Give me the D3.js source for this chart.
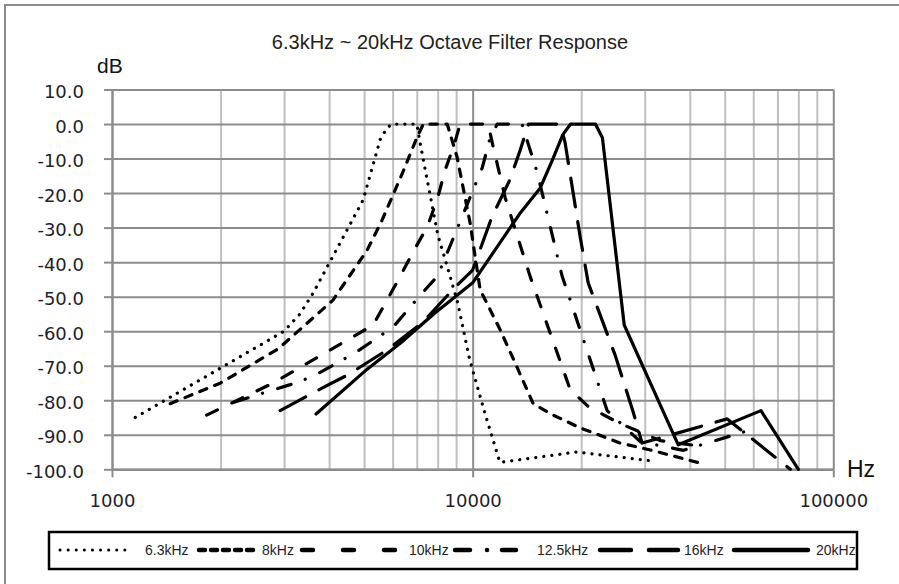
<!DOCTYPE html>
<html><head><meta charset="utf-8">
<script src="https://cdn.jsdelivr.net/npm/d3@7"></script>
<style>html,body{margin:0;padding:0;background:#fff;overflow:hidden}</style>
</head><body>
<svg id="chart" width="899" height="584"></svg>
<script>
// ---------------- data ----------------
const seriesNames = ["6.3kHz", "8kHz", "10kHz", "12.5kHz", "16kHz", "20kHz"];

const freq63 = [1160, 3000, 3320, 3610, 4970, 5540, 5800, 6000, 7000, 7150, 8000, 8600, 9100, 9800, 10830, 11900, 19400, 31000];
const db63   = [-85, -60, -55, -49, -22, -4.5, -1, 0, 0, -5.5, -32, -43, -52, -68, -84, -98, -95, -97.5];

const freq8 = [1450, 2000, 2900, 4100, 5100, 5600, 6400, 7000, 7300, 8500, 9050, 9840, 10490, 11920, 13260, 14720, 16720, 19870, 25660, 31080, 42760];
const db8   = [-81, -75, -65, -51, -36.5, -28, -14, -4, 0, 0, -9.5, -28.7, -48, -59.6, -70.3, -81, -84.3, -88, -92.4, -94.4, -98.2];

const freq10 = [1830, 2800, 5300, 6170, 6840, 7480, 7970, 8390, 8890, 9230, 11040, 11330, 12310, 14440, 18640, 20910, 25330, 33120, 44160];
const db10   = [-84.3, -75, -58.2, -45.8, -37, -29.8, -22, -13.3, -6, 0, 0, -5.4, -21.4, -44.2, -76.9, -81.8, -86.5, -91.7, -93.5];

const freq125 = [2190, 2800, 3300, 3660, 4720, 6020, 7240, 8000, 10630, 11180, 11700, 13700, 15100, 17700, 21450, 23600, 29150, 38400, 61500];
const db125   = [-80.5, -77, -74.7, -72.7, -66.3, -58.8, -49, -44, -12.7, -4, 0, 0, -14, -44, -70, -83, -92, -94.5, -88];

const freq16 = [2925, 3820, 4500, 5800, 7300, 8800, 10000, 11300, 12700, 13500, 14300, 17500, 18050, 19870, 20910, 24850, 27870, 29500, 50800, 76000];
const db16   = [-83, -76.5, -72.7, -65.4, -57.3, -48, -42.3, -27, -16, -8, 0, 0, -5.5, -32.7, -46, -67, -83.4, -92.4, -85.4, -100];

const freq20 = [3680, 5100, 6300, 7800, 10000, 13500, 15400, 16700, 17800, 18700, 21900, 22900, 26320, 37160, 63000, 80000];
const db20   = [-84, -71, -63.5, -55, -46, -26, -18.5, -10, -3, 0, 0, -4, -58.2, -92.9, -83, -100];

const yTicks = [10, 0, -10, -20, -30, -40, -50, -60, -70, -80, -90, -100];
const xTicks = [1000, 10000, 100000];
const xMinor = [2000, 3000, 4000, 5000, 6000, 7000, 8000, 9000, 20000, 30000, 40000, 50000, 60000, 70000, 80000, 90000];

// ---------------- layout / style ----------------
const W = 899, H = 584;
const X0 = 112, X1 = 833.3, Y0 = 89.5, Y1 = 469.3;
const gridDark = "#8c8c8c", gridLight = "#c0c0c0", txt = "#1e1e2e";

const styles = [
  {dash: "0.1 8",          w: 3.2, ld: "0.1 8",                      lw: 3,   lx: [60, 132]},
  {dash: "7.5 8.5",        w: 3.2, ld: "6 6",                        lw: 4.5, lx: [199, 253]},
  {dash: "12 16",          w: 3.2, ld: "11 30",                      lw: 4.5, lx: [302, 395]},
  {dash: "14 15 0.1 15.9", w: 3.2, ld: "15 17 0.1 14.9 14 20",       lw: 4.5, lx: [455, 516]},
  {dash: "29 15",          w: 3.2, ld: "31 18 29 20",                lw: 4.5, lx: [600, 678]},
  {dash: null,             w: 3.2, ld: null,                         lw: 4.5, lx: [734, 808]}
];
const labelX = [145, 262, 409, 537, 684, 816];

const seriesF = [freq63, freq8, freq10, freq125, freq16, freq20];
const seriesV = [db63, db8, db10, db125, db16, db20];
const series = seriesNames.map((n, i) => ({
  name: n,
  pts: seriesF[i].map((f, j) => [f, seriesV[i][j]]),
  st: styles[i]
}));

const svg = d3.select("#chart");
svg.append("rect").attr("width", W).attr("height", H).attr("fill", "#fff");

// outer chart border
svg.append("rect").attr("x", 5).attr("y", 5).attr("width", 1200).attr("height", 1200)
  .attr("fill", "none").attr("stroke", "#8c8c8c").attr("stroke-width", 2);

const x = d3.scaleLog().domain([1000, 100000]).range([X0, X1]);
const y = d3.scaleLinear().domain([-100, 10]).range([Y1, Y0]);

// minor vertical grid
svg.append("g").attr("transform", `translate(0,${Y1})`)
  .call(d3.axisBottom(x).tickValues(xMinor).tickSize(-(Y1 - Y0)).tickFormat(""))
  .call(g => g.select(".domain").remove())
  .call(g => g.selectAll("line").attr("stroke", gridLight).attr("stroke-width", 2));

// horizontal grid
svg.append("g").attr("transform", `translate(${X0},0)`)
  .call(d3.axisLeft(y).tickValues(yTicks).tickSize(-(X1 - X0)).tickFormat(""))
  .call(g => g.select(".domain").remove())
  .call(g => g.selectAll("line").attr("stroke", gridDark).attr("stroke-width", 2));

// major vertical grid
svg.append("g").attr("transform", `translate(0,${Y1})`)
  .call(d3.axisBottom(x).tickValues([10000, 100000]).tickSize(-(Y1 - Y0)).tickFormat(""))
  .call(g => g.select(".domain").remove())
  .call(g => g.selectAll("line").attr("stroke", gridDark).attr("stroke-width", 2));

// y axis
svg.append("g").attr("transform", `translate(${X0},0)`)
  .call(d3.axisLeft(y).tickValues(yTicks).tickFormat(d => d.toFixed(1)).tickSizeInner(8).tickSizeOuter(0).tickPadding(20))
  .call(g => g.select(".domain").attr("stroke", gridDark).attr("stroke-width", 2.5))
  .call(g => g.selectAll("line").attr("stroke", gridDark).attr("stroke-width", 2))
  .call(g => g.selectAll("text").attr("fill", txt).attr("font-family", "DejaVu Sans").attr("font-size", 18).attr("dy", "0.45em"));

// x axis
svg.append("g").attr("transform", `translate(0,${Y1})`)
  .call(d3.axisBottom(x).tickValues(xTicks).tickFormat(d3.format("d")).tickSizeInner(8).tickSizeOuter(0).tickPadding(17))
  .call(g => g.select(".domain").attr("stroke", gridDark).attr("stroke-width", 2.5))
  .call(g => g.selectAll("line").attr("stroke", gridDark).attr("stroke-width", 2))
  .call(g => g.selectAll("text").attr("fill", txt).attr("font-family", "DejaVu Sans").attr("font-size", 18));

// series
svg.append("defs").append("clipPath").attr("id", "plotclip")
  .append("rect").attr("x", X0).attr("y", Y0 - 4).attr("width", X1 - X0).attr("height", Y1 - Y0 + 6);

const line = d3.line().x(d => x(d[0])).y(d => y(d[1]));
const gS = svg.append("g").attr("clip-path", "url(#plotclip)");
series.forEach(s => {
  gS.append("path").datum(s.pts).attr("d", line)
    .attr("fill", "none").attr("stroke", "#000").attr("stroke-width", s.st.w)
    .attr("stroke-linecap", "round").attr("stroke-linejoin", "round")
    .attr("stroke-dasharray", s.st.dash);
});

// titles
svg.append("text").attr("x", 450).attr("y", 49).attr("text-anchor", "middle")
  .attr("font-family", "Liberation Sans, Arial").attr("font-size", 20).attr("fill", "#222")
  .text("6.3kHz ~ 20kHz Octave Filter Response");
svg.append("text").attr("x", 97).attr("y", 73)
  .attr("font-family", "Liberation Sans, Arial").attr("font-size", 21).attr("fill", "#111").text("dB");
svg.append("text").attr("x", 847).attr("y", 477)
  .attr("font-family", "Liberation Sans, Arial").attr("font-size", 23).attr("fill", "#111").text("Hz");

// legend
const lg = svg.append("g");
lg.append("rect").attr("x", 49).attr("y", 532).attr("width", 808).attr("height", 37)
  .attr("fill", "#fff").attr("stroke", "#000").attr("stroke-width", 2.5);
series.forEach((s, i) => {
  lg.append("line").attr("x1", s.st.lx[0]).attr("x2", s.st.lx[1]).attr("y1", 550).attr("y2", 550)
    .attr("stroke", "#000").attr("stroke-width", s.st.lw).attr("stroke-linecap", "round")
    .attr("stroke-dasharray", s.st.ld);
  lg.append("text").attr("x", labelX[i]).attr("y", 555)
    .attr("font-family", "Liberation Sans, Arial").attr("font-size", 14).attr("fill", txt)
    .text(s.name);
});
</script>
</body></html>
